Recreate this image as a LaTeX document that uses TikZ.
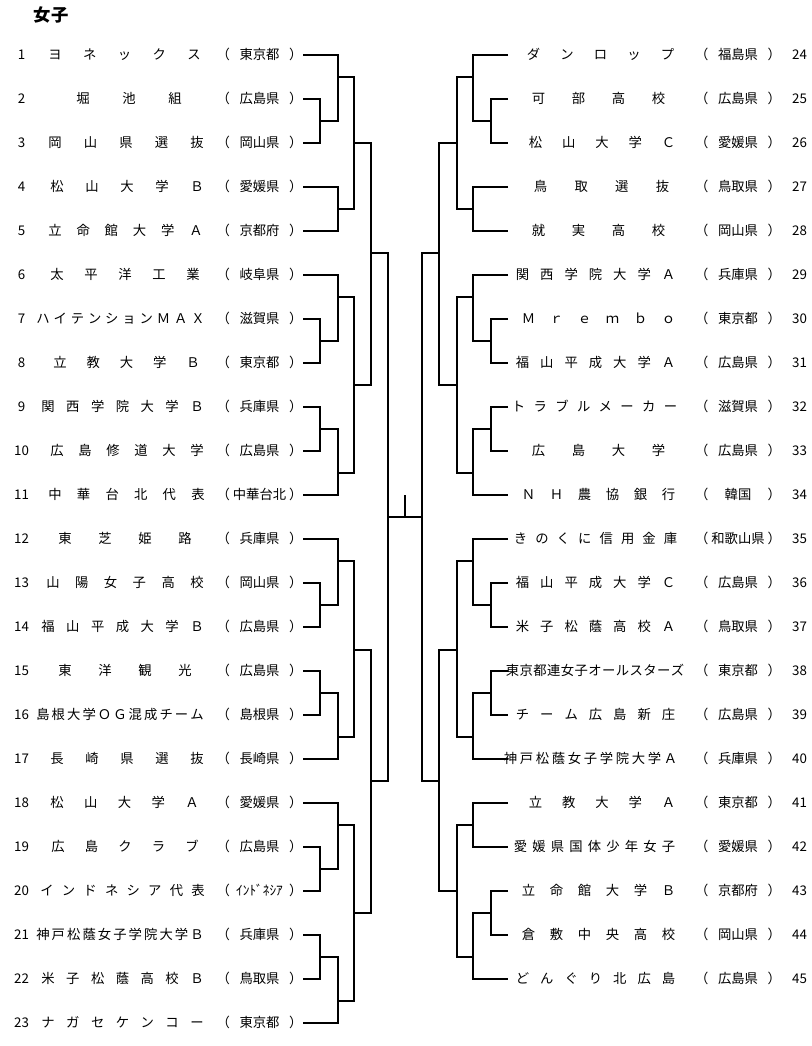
\documentclass[tikz,border=0pt]{standalone}
\usepackage{fontspec}
\setmainfont{Noto Sans CJK JP}
\usepackage{tikz}
\newdimen\pxu \pxu=0.75pt
% spread the characters of a team name over the whole cell
\def\spreadaux#1#2{#1\ifx\relax#2\else\hfill\expandafter\spreadaux\expandafter#2\fi}
\newcommand\spreadname[3]{\makebox[\dimexpr#2\pxu-#1\pxu+1em\relax][s]{\expandafter\spreadaux#3\relax}}
\newcommand\prefbox[1]{\makebox[86\pxu][s]{（\hfill#1\hfill）}}
\begin{document}
\begin{tikzpicture}[
  x=0.75pt, y=-0.75pt,
  font=\fontsize{10pt}{12pt}\selectfont,
  line width=0.8pt,
  num/.style={inner sep=0pt},
  tname/.style={inner sep=0pt, text height=0.85em, text depth=0.15em},
  pref/.style={inner sep=0pt, text height=0.85em, text depth=0.15em}
]
\path[use as bounding box] (0,0) rectangle (812,1046);
\node[font=\fontsize{13pt}{15pt}\selectfont\bfseries] (title) at (51,15) {女子};
% left half: teams 1-23
\foreach \idx/\xa/\xb/\tm/\pf in {
  1/55/194/ヨネックス/東京都,
  2/83/175/堀池組/広島県,
  3/55/197/岡山県選抜/岡山県,
  4/57/197/松山大学Ｂ/愛媛県,
  5/55/196/立命館大学Ａ/京都府,
  6/57/193/太平洋工業/岐阜県,
  7/43/198/ハイテンションＭＡＸ/滋賀県,
  8/60/193/立教大学Ｂ/東京都,
  9/48/197/関西学院大学Ｂ/兵庫県,
  10/57/197/広島修道大学/広島県,
  11/55/198/中華台北代表/中華台北,
  12/65/185/東芝姫路/兵庫県,
  13/53/197/山陽女子高校/岡山県,
  14/48/197/福山平成大学Ｂ/広島県,
  15/65/185/東洋観光/広島県,
  16/43/197/島根大学ＯＧ混成チーム/島根県,
  17/57/197/長崎県選抜/長崎県,
  18/57/192/松山大学Ａ/愛媛県,
  19/58/192/広島クラブ/広島県,
  20/47/198/インドネシア代表/ｲﾝﾄﾞﾈｼｱ,
  21/43/197/神戸松蔭女子学院大学Ｂ/兵庫県,
  22/48/197/米子松蔭高校Ｂ/鳥取県,
  23/48/197/ナガセケンコー/東京都}{
  \node[num] (n\idx) at (21.5,{55+44*(\idx-1)}) {\idx};
  \node[tname] (t\idx) at ({(\xa+\xb)/2},{55+44*(\idx-1)}) {\spreadname{\xa}{\xb}{\tm}};
  \node[pref] (p\idx) at (259.5,{55+44*(\idx-1)}) {\prefbox{\pf}};
}
% right half: teams 24-45
\foreach \idx/\xa/\xb/\tm/\pf in {
  24/533/667/ダンロップ/福島県,
  25/538/658/可部高校/広島県,
  26/535/668/松山大学Ｃ/愛媛県,
  27/540/662/鳥取選抜/鳥取県,
  28/538/658/就実高校/岡山県,
  29/522/668/関西学院大学Ａ/兵庫県,
  30/528/668/Ｍｒｅｍｂｏ/東京都,
  31/522/668/福山平成大学Ａ/広島県,
  32/518/670/トラブルメーカー/滋賀県,
  33/538/658/広島大学/広島県,
  34/528/668/ＮＨ農協銀行/韓国,
  35/520/670/きのくに信用金庫/和歌山県,
  36/522/668/福山平成大学Ｃ/広島県,
  37/522/668/米子松蔭高校Ａ/鳥取県,
  38/512/677/東京都連女子オールスターズ/東京都,
  39/522/668/チーム広島新庄/広島県,
  40/510/670/神戸松蔭女子学院大学Ａ/兵庫県,
  41/535/668/立教大学Ａ/東京都,
  42/520/668/愛媛県国体少年女子/愛媛県,
  43/528/668/立命館大学Ｂ/京都府,
  44/528/668/倉敷中央高校/岡山県,
  45/522/668/どんぐり北広島/広島県}{
  \node[tname, anchor=west] (t\idx) at (508,{55+44*(\idx-24)})
    {\hspace*{\dimexpr\xa\pxu-508\pxu-0.5em\relax}\spreadname{\xa}{\xb}{\tm}};
  \node[pref] (p\idx) at (738,{55+44*(\idx-24)}) {\prefbox{\pf}};
  \node[num] (n\idx) at (799.5,{55+44*(\idx-24)}) {\idx};
}
% left bracket
\coordinate (lA23) at (320,121);
\coordinate (lA) at (338,77);
\coordinate (lB) at (338,209);
\coordinate (lAB) at (354,143);
\coordinate (lC78) at (320,341);
\coordinate (lC) at (338,297);
\coordinate (lD910) at (320,429);
\coordinate (lD) at (338,473);
\coordinate (lCD) at (354,385);
\coordinate (lAD) at (371,253);
\coordinate (lE1314) at (320,605);
\coordinate (lE) at (338,561);
\coordinate (lF1516) at (320,693);
\coordinate (lF) at (338,737);
\coordinate (lEF) at (354,650);
\coordinate (lG1920) at (320,869);
\coordinate (lG) at (338,825);
\coordinate (lH2122) at (320,957);
\coordinate (lH) at (338,1001);
\coordinate (lGH) at (354,913);
\coordinate (lEH) at (371,781);
\coordinate (lTop) at (388,517);
\draw (p2.east) -| (lA23) |- (p3.east);
\draw (p1.east) -| (lA) |- (lA23);
\draw (p4.east) -| (lB) |- (p5.east);
\draw (lA) -| (lAB) |- (lB);
\draw (p7.east) -| (lC78) |- (p8.east);
\draw (p6.east) -| (lC) |- (lC78);
\draw (p9.east) -| (lD910) |- (p10.east);
\draw (lD910) -| (lD) |- (p11.east);
\draw (lC) -| (lCD) |- (lD);
\draw (lAB) -| (lAD) |- (lCD);
\draw (p13.east) -| (lE1314) |- (p14.east);
\draw (p12.east) -| (lE) |- (lE1314);
\draw (p15.east) -| (lF1516) |- (p16.east);
\draw (lF1516) -| (lF) |- (p17.east);
\draw (lE) -| (lEF) |- (lF);
\draw (p19.east) -| (lG1920) |- (p20.east);
\draw (p18.east) -| (lG) |- (lG1920);
\draw (p21.east) -| (lH2122) |- (p22.east);
\draw (lH2122) -| (lH) |- (p23.east);
\draw (lG) -| (lGH) |- (lH);
\draw (lEF) -| (lEH) |- (lGH);
\draw (lAD) -| (lTop) |- (lEH);
% right bracket
\coordinate (rA2526) at (491,121);
\coordinate (rA) at (473,77);
\coordinate (rB) at (473,209);
\coordinate (rAB) at (457,143);
\coordinate (rC3031) at (491,341);
\coordinate (rC) at (473,297);
\coordinate (rD3233) at (491,429);
\coordinate (rD) at (473,473);
\coordinate (rCD) at (457,385);
\coordinate (rAD) at (439,253);
\coordinate (rE3637) at (491,605);
\coordinate (rE) at (473,561);
\coordinate (rF3839) at (491,693);
\coordinate (rF) at (473,737);
\coordinate (rEF) at (457,650);
\coordinate (rG) at (473,825);
\coordinate (rH4344) at (491,913);
\coordinate (rH) at (473,957);
\coordinate (rGH) at (457,891);
\coordinate (rEH) at (439,781);
\coordinate (rTop) at (422,517);
\draw (t25.west) -| (rA2526) |- (t26.west);
\draw (t24.west) -| (rA) |- (rA2526);
\draw (t27.west) -| (rB) |- (t28.west);
\draw (rA) -| (rAB) |- (rB);
\draw (t30.west) -| (rC3031) |- (t31.west);
\draw (t29.west) -| (rC) |- (rC3031);
\draw (t32.west) -| (rD3233) |- (t33.west);
\draw (rD3233) -| (rD) |- (t34.west);
\draw (rC) -| (rCD) |- (rD);
\draw (rAB) -| (rAD) |- (rCD);
\draw (t36.west) -| (rE3637) |- (t37.west);
\draw (t35.west) -| (rE) |- (rE3637);
\draw (t38.west) -| (rF3839) |- (t39.west);
\draw (rF3839) -| (rF) |- (t40.west);
\draw (rE) -| (rEF) |- (rF);
\draw (t41.west) -| (rG) |- (t42.west);
\draw (t43.west) -| (rH4344) |- (t44.west);
\draw (rH4344) -| (rH) |- (t45.west);
\draw (rG) -| (rGH) |- (rH);
\draw (rEF) -| (rEH) |- (rGH);
\draw (rAD) -| (rTop) |- (rEH);
% final
\draw (lTop) -- (rTop);
\coordinate (win) at (405,495);
\draw (win) -- (win |- lTop);
\end{tikzpicture}
\end{document}
